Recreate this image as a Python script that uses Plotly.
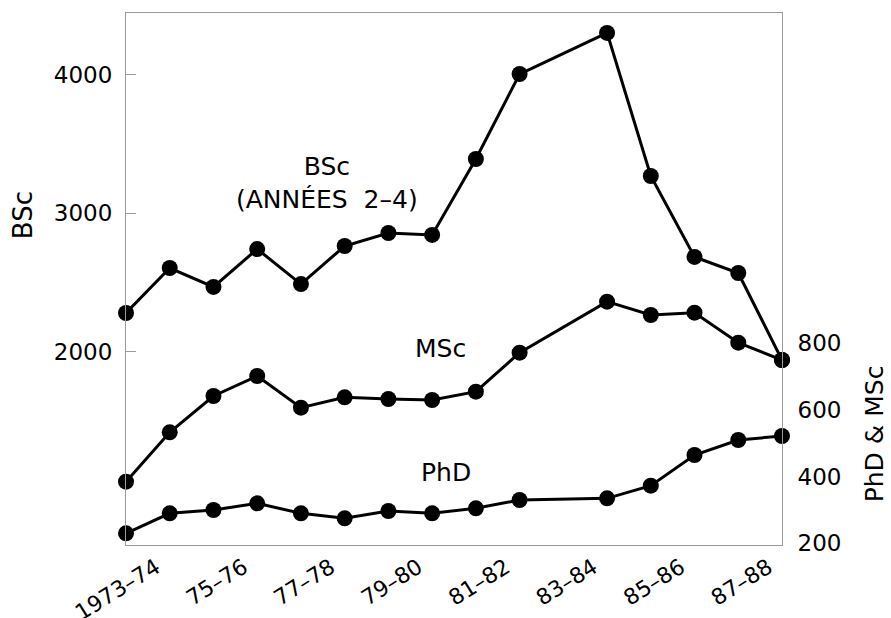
import plotly.graph_objects as go

years = ["1973–74", "1974–75", "1975–76", "1976–77", "1977–78", "1978–79",
         "1979–80", "1980–81", "1981–82", "1982–83", "1983–84", "1984–85",
         "1985–86", "1986–87", "1987–88", "1988–89"]
tick_years = ["1973–74", "1975–76", "1977–78", "1979–80", "1981–82",
              "1983–84", "1985–86", "1987–88"]
tick_text = ["1973–74", "75–76", "77–78", "79–80", "81–82", "83–84", "85–86", "87–88"]

bsc = [2280, 2605, 2468, 2742, 2489, 2764, 2858, 2844, 3393, 4007,
       None, 4304, 3270, 2685, 2569, 1940]
msc = [385, 533, 642, 702, 607, 638, 633, 630, 655, 772,
       None, 925, 885, 892, 802, 750]
phd = [230, 290, 300, 320, 290, 275, 297, 290, 305, 330,
       None, 335, 373, 465, 510, 522]

FONT = "DejaVu Sans"
line = dict(color="black", width=3)
marker = dict(color="black", size=16)

fig = go.Figure()
fig.add_trace(go.Scatter(x=years, y=bsc, mode="lines+markers", line=line,
                         marker=marker, connectgaps=True, cliponaxis=False,
                         name="BSc"))
fig.add_trace(go.Scatter(x=years, y=msc, mode="lines+markers", line=line,
                         marker=marker, connectgaps=True, cliponaxis=False,
                         yaxis="y2", name="MSc"))
fig.add_trace(go.Scatter(x=years, y=phd, mode="lines+markers", line=line,
                         marker=marker, connectgaps=True, cliponaxis=False,
                         yaxis="y2", name="PhD"))

grey = "#9a9a9a"


def label(text, x, y, size=25, angle=0):
    return dict(text=text, x=x, y=y, xref="paper", yref="paper",
                xanchor="center", yanchor="middle", showarrow=False,
                textangle=angle, font=dict(size=size))


fig.update_layout(
    width=891, height=618,
    margin=dict(l=126, r=109, t=13, b=73),
    paper_bgcolor="white", plot_bgcolor="white",
    showlegend=False,
    font=dict(family=FONT, color="black", size=23),
    xaxis=dict(type="category", categoryorder="array", categoryarray=years,
               range=[0, 15], tickvals=tick_years, ticktext=tick_text,
               tickangle=-32, ticklabelshift=30, ticklabelstandoff=0,
               ticks="", showgrid=False, automargin=False,
               showline=True, linecolor=grey, linewidth=1, mirror=True,
               zeroline=False, tickfont=dict(size=22)),
    yaxis=dict(range=[603, 4448], tickvals=[2000, 3000, 4000],
               ticks="inside", ticklen=10, tickcolor=grey, showgrid=False,
               automargin=False, ticklabelstandoff=8,
               showline=True, linecolor=grey, linewidth=1, zeroline=False,
               tickfont=dict(size=23)),
    yaxis2=dict(range=[195, 1791], tickvals=[200, 400, 600, 800],
                overlaying="y", side="right", ticks="", showgrid=False,
                automargin=False, ticklabelstandoff=10,
                showline=True, linecolor=grey, linewidth=1, zeroline=False,
                tickfont=dict(size=23)),
    annotations=[
        label("BSc<br>(ANNÉES  2–4)", 0.306, 0.681),
        label("MSc", 0.480, 0.370),
        label("PhD", 0.488, 0.137),
        label("BSc", -0.157, 0.620, size=26, angle=-90),
        label("PhD & MSc", 1.141, 0.209, size=25, angle=-90),
    ],
)

fig.write_html("out.html")
